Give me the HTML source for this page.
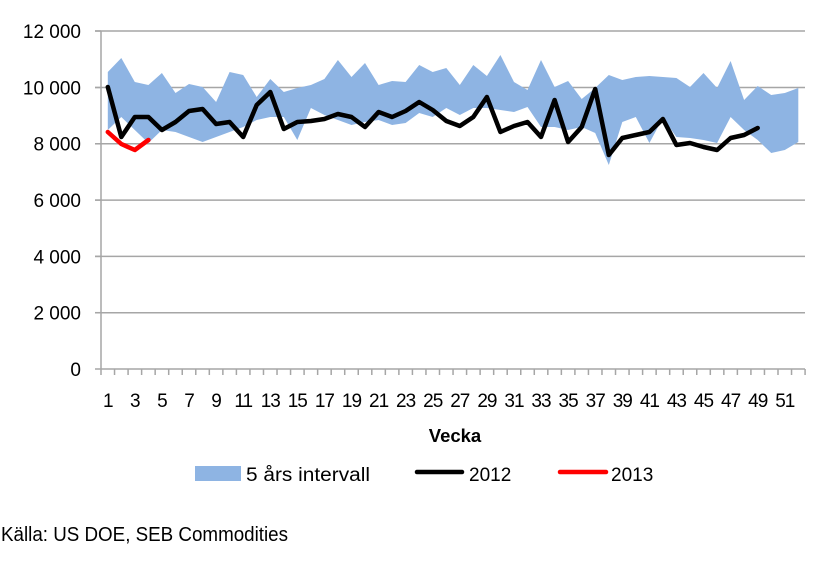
<!DOCTYPE html>
<html><head><meta charset="utf-8"><style>
body{margin:0;background:#fff;width:827px;height:563px;overflow:hidden}
text{font-family:"Liberation Sans",sans-serif;fill:#000}
</style></head><body>
<svg id="s" width="827" height="563" xmlns="http://www.w3.org/2000/svg"></svg>
<script>
const up=[72,58,82,85,73,93,84,87,102,72,75,97,79,92,88,85,79,60,77,63,85,81,82,65,72,68,85,65,76,55,82,90,60,87,81,99,88,75,80,77,76,77,78,87,73,88,61,100,86,95,93,88];
const lo=[130,117,130,143,130,132,137,142,137,132,127,120,117,117,140,108,115,120,125,122,120,125,123,113,117,108,115,108,108,110,112,107,127,127,130,127,133,165,122,117,143,118,137,138,140,143,117,130,140,153,150,142];
const b=[87,137,117,117,130,122,111,109,124,122,137,105,92,129,122,121,119,114,117,127,112,117,111,102,110,121,126,117,97,132,126,122,137,100,142,127,89,155,138,135,132,119,145,143,147,150,138,135,128];
const r=[132,144,150,140];
const X=w=>(101+(w-0.5)*13.54).toFixed(1);
let h='';
[31,87.5,143.8,200.1,256.4,312.7].forEach(y=>h+=`<line x1="95" x2="805" y1="${y}" y2="${y}" stroke="#a6a6a6" stroke-width="1.5"/>`);
let poly=up.map((y,i)=>X(i+1)+','+y).concat(lo.map((y,i)=>X(i+1)+','+y).reverse()).join(' ');
h+=`<polygon points="${poly}" fill="#8eb4e3"/>`;
h+=`<line x1="101" x2="101" y1="31" y2="369" stroke="#a6a6a6" stroke-width="1.5"/>`;
h+=`<line x1="95" x2="805" y1="369" y2="369" stroke="#a6a6a6" stroke-width="1.5"/>`;
for(let i=0;i<=52;i++){let x=101+i*13.54;h+=`<line x1="${x}" x2="${x}" y1="369" y2="375" stroke="#a6a6a6" stroke-width="1.5"/>`;}
[31,87.5,143.8,200.1,256.4,312.7].forEach(y=>h+=`<line x1="95" x2="101" y1="${y}" y2="${y}" stroke="#a6a6a6" stroke-width="1.5"/>`);
h+=`<polyline points="${b.map((y,i)=>X(i+1)+','+y).join(' ')}" fill="none" stroke="#000" stroke-width="4.5" stroke-linejoin="round" stroke-linecap="round"/>`;
h+=`<polyline points="${r.map((y,i)=>X(i+1)+','+y).join(' ')}" fill="none" stroke="#f00" stroke-width="4.5" stroke-linejoin="round" stroke-linecap="round"/>`;
['12 000','10 000','8 000','6 000','4 000','2 000','0'].forEach((t,i)=>h+=`<text x="81" y="${31+i*56.33+7}" font-size="19" text-anchor="end">${t}</text>`);
for(let w=1;w<=51;w+=2)h+=`<text x="${X(w)}" y="407" font-size="19" text-anchor="middle" letter-spacing="-1">${w}</text>`;
h+=`<text x="455" y="442" font-size="18.5" font-weight="bold" text-anchor="middle">Vecka</text>`;
h+=`<rect x="195" y="466" width="46" height="15" fill="#8eb4e3"/><text x="246" y="481" font-size="19" textLength="124" lengthAdjust="spacingAndGlyphs">5 års intervall</text>`;
h+=`<line x1="417" x2="462" y1="472" y2="472" stroke="#000" stroke-width="4.5" stroke-linecap="round"/><text x="469" y="481" font-size="19">2012</text>`;
h+=`<line x1="560" x2="606" y1="472" y2="472" stroke="#f00" stroke-width="4.5" stroke-linecap="round"/><text x="611" y="481" font-size="19">2013</text>`;
h+=`<text x="1" y="541" font-size="20" textLength="287" lengthAdjust="spacingAndGlyphs">Källa: US DOE, SEB Commodities</text>`;
document.getElementById('s').innerHTML=h;
</script>
</body></html>
